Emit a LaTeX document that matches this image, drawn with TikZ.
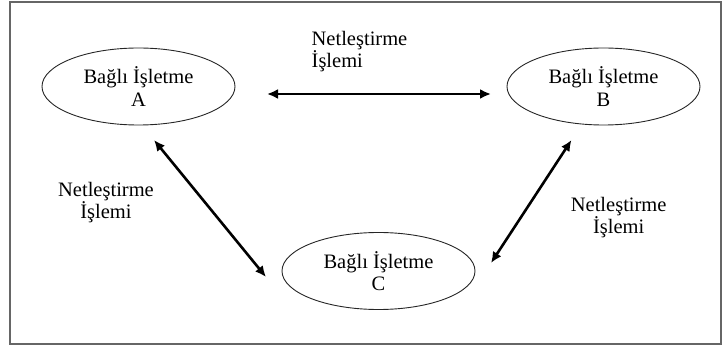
\documentclass[tikz,border=0pt]{standalone}
\usepackage{fontspec}
\setmainfont{Liberation Serif}
\usetikzlibrary{shapes.geometric,arrows.meta}
\begin{document}
\begin{tikzpicture}[x=1pt,y=-1pt,
  firm/.style={ellipse,draw=black!85,line width=0.9pt,minimum width=193pt,minimum height=77pt,inner sep=0pt,align=center,font=\fontsize{20.5}{22.5}\selectfont},
  lbl/.style={inner sep=0pt,font=\fontsize{20.5}{22}\selectfont},
  link/.style={line width=2.6pt,{Latex[length=11pt,width=10pt]}-{Latex[length=11pt,width=10pt]}}]
\useasboundingbox (0,0) rectangle (722,352);
\draw[line width=1.5pt,draw=black!60] (10,2) rectangle (721,344);
\node[firm] (A) at (138.5,86.5) {Bağlı İşletme\\A};
\node[firm] (B) at (603.5,86.5) {Bağlı İşletme\\B};
\node[firm] (C) at (378.5,271) {Bağlı İşletme\\C};
\node[lbl,align=left] (lab) at (359.5,52) {Netleştirme\\İşlemi};
\node[lbl,align=center] (lac) at (106,202.5) {Netleştirme\\İşlemi};
\node[lbl,align=center] (lbc) at (618.7,218) {Netleştirme\\İşlemi};
\coordinate (ab1) at (267,94);
\coordinate (ab2) at (491,94);
\coordinate (ac1) at (154,140);
\coordinate (ac2) at (266,277);
\coordinate (bc1) at (571.5,140);
\coordinate (bc2) at (491,263);
\draw[link] (ab1) -- (ab2);
\draw[link] (ac1) -- (ac2);
\draw[link] (bc1) -- (bc2);
\end{tikzpicture}
\end{document}
